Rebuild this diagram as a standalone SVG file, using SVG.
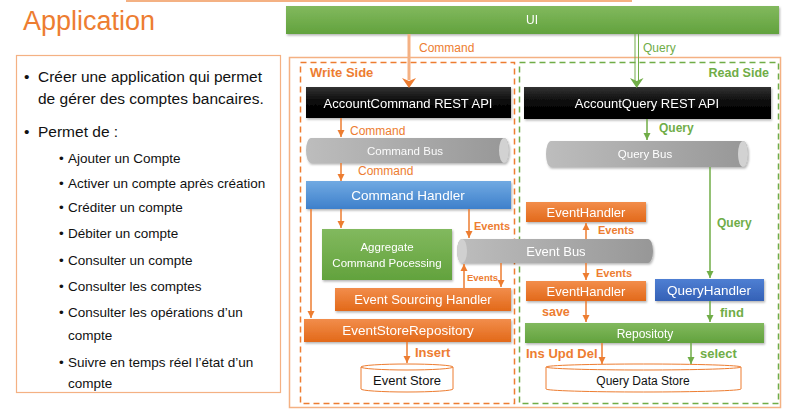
<svg xmlns="http://www.w3.org/2000/svg" width="798" height="416" viewBox="0 0 798 416">
<defs>
<linearGradient id="gGreen" x1="0" y1="0" x2="0" y2="1"><stop offset="0" stop-color="#82B95E"/><stop offset="1" stop-color="#62A23D"/></linearGradient>
<linearGradient id="gOrange" x1="0" y1="0" x2="0" y2="1"><stop offset="0" stop-color="#F28D4B"/><stop offset="1" stop-color="#E2691A"/></linearGradient>
<linearGradient id="gBlack" x1="0" y1="0" x2="0" y2="1"><stop offset="0" stop-color="#333"/><stop offset="0.5" stop-color="#080808"/><stop offset="1" stop-color="#000"/></linearGradient>
<linearGradient id="gBlue" x1="0" y1="0" x2="0" y2="1"><stop offset="0" stop-color="#71AAE2"/><stop offset="1" stop-color="#3E80CB"/></linearGradient>
<linearGradient id="gBlue2" x1="0" y1="0" x2="0" y2="1"><stop offset="0" stop-color="#4F7FD3"/><stop offset="1" stop-color="#3461B6"/></linearGradient>
<linearGradient id="gGray" x1="0" y1="0" x2="1" y2="0"><stop offset="0" stop-color="#BDBDBD"/><stop offset="1" stop-color="#979797"/></linearGradient>
<filter id="sh" x="-5%" y="-20%" width="110%" height="150%"><feDropShadow dx="1" dy="1.5" stdDeviation="1" flood-color="#000" flood-opacity="0.3"/></filter>
<marker id="aO" markerWidth="8" markerHeight="8" refX="7" refY="4" orient="auto" markerUnits="userSpaceOnUse"><path d="M0,0.5 L7,4 L0,7.5 Z" fill="#ED7D31"/></marker>
<marker id="aG" markerWidth="8" markerHeight="8" refX="7" refY="4" orient="auto" markerUnits="userSpaceOnUse"><path d="M0,0.5 L7,4 L0,7.5 Z" fill="#70AD47"/></marker>
<style>
text{font-family:"Liberation Sans",Arial,sans-serif}
.w{fill:#fff;text-anchor:middle}
.k{fill:#111}
.lo{fill:#ED7D31}
.lg{fill:#70AD47}
.b{font-weight:bold}
.eo{stroke:#ED7D31;stroke-width:1.5;fill:none;marker-end:url(#aO)}
.eg{stroke:#70AD47;stroke-width:1.5;fill:none;marker-end:url(#aG)}
.box{filter:url(#sh)}
</style>
</defs>
<rect width="798" height="416" fill="#fff"/>
<rect x="126" y="0" width="506" height="2" fill="#F4B183"/>

<g id="title"><text x="23" y="30" font-size="27" fill="#ED7D31" textLength="132" lengthAdjust="spacingAndGlyphs">Application</text></g>

<g id="leftPanel">
<rect x="16.5" y="55.5" width="264" height="337" fill="#fff" stroke="#F4B183" stroke-width="1.2"/>
<g font-size="15.5" fill="#111">
<text x="24" y="82">•</text><text x="38" y="82" textLength="224" lengthAdjust="spacingAndGlyphs">Créer une application qui permet</text>
<text x="38" y="104">de gérer des comptes bancaires.</text>
<text x="24" y="137">•</text><text x="38" y="137">Permet de :</text>
</g>
<g font-size="13.5" fill="#111">
<text x="59" y="163">•</text><text x="68" y="163">Ajouter un Compte</text>
<text x="59" y="188">•</text><text x="68" y="188">Activer un compte après création</text>
<text x="59" y="212">•</text><text x="68" y="212">Créditer un compte</text>
<text x="59" y="238">•</text><text x="68" y="238">Débiter un compte</text>
<text x="59" y="265">•</text><text x="68" y="265">Consulter un compte</text>
<text x="59" y="291">•</text><text x="68" y="291">Consulter les comptes</text>
<text x="59" y="317">•</text><text x="68" y="317">Consulter les opérations d’un</text>
<text x="68" y="340">compte</text>
<text x="59" y="367">•</text><text x="68" y="367">Suivre en temps réel l’état d’un</text>
<text x="68" y="388">compte</text>
</g>
</g>

<g id="frame">
<rect x="289.5" y="57.5" width="491" height="350" fill="none" stroke="#F4B183" stroke-width="1.5"/>
</g>
<g id="writeSide">
<rect x="300.5" y="62.5" width="214" height="341" fill="none" stroke="#ED7D31" stroke-width="1.5" stroke-dasharray="6,4"/>
<text x="310" y="77" font-size="13" class="lo b">Write Side</text>
</g>
<g id="readSide">
<rect x="519.5" y="62.5" width="259" height="341" fill="none" stroke="#70AD47" stroke-width="1.5" stroke-dasharray="6,4"/>
<text x="769" y="77" font-size="12.5" class="lg b" text-anchor="end">Read Side</text>
</g>

<g id="ui" class="box"><rect x="286" y="6" width="493" height="28" fill="url(#gGreen)"/><text x="532" y="24" font-size="12" class="w">UI</text></g>

<g id="accountCommandApi" class="box"><rect x="306" y="87" width="205" height="31" fill="url(#gBlack)"/><text x="408" y="108" font-size="13" class="w">AccountCommand REST API</text></g>
<g id="accountQueryApi" class="box"><rect x="524" y="87" width="247" height="32" fill="url(#gBlack)"/><text x="647" y="108" font-size="13" class="w">AccountQuery REST API</text></g>

<g id="commandBus" class="box">
<path d="M311,138 H504 A5,12.5 0 0 1 504,163 H311 A5,12.5 0 0 1 311,138 Z" fill="url(#gGray)"/>
<ellipse cx="504" cy="150.5" rx="5" ry="12.5" fill="#D2D2D2"/>
<text x="405" y="155" font-size="11.5" class="w" fill-opacity="0.95">Command Bus</text>
</g>
<g id="commandHandler" class="box"><rect x="306" y="181" width="205" height="28" fill="url(#gBlue)"/><text x="408" y="200" font-size="13.5" class="w">Command Handler</text></g>
<g id="aggregate" class="box"><rect x="322" y="229" width="130" height="51" fill="url(#gGreen)"/><text x="387" y="251" font-size="11.5" class="w">Aggregate</text><text x="387" y="267" font-size="11.5" class="w">Command Pocessing</text></g>
<g id="eventBus" class="box">
<path d="M462,239 H648 A5,12 0 0 1 648,263 H462 A5,12 0 0 1 462,239 Z" fill="url(#gGray)"/>
<ellipse cx="462" cy="251" rx="5" ry="12" fill="#D0D0D0"/>
<text x="556" y="256" font-size="13" class="w">Event Bus</text>
</g>
<g id="eventSourcingHandler" class="box"><rect x="335" y="288" width="176" height="23" fill="url(#gOrange)"/><text x="423" y="304" font-size="13" class="w">Event Sourcing Handler</text></g>
<g id="eventStoreRepository" class="box"><rect x="304" y="319" width="207" height="23" fill="url(#gOrange)"/><text x="408" y="335" font-size="13.5" class="w">EventStoreRepository</text></g>
<g id="eventStore">
<path d="M361,367 V389 A46,3 0 0 0 453,389 V367" fill="#fff" stroke="#ED7D31" stroke-width="1"/>
<ellipse cx="407" cy="367" rx="46" ry="3" fill="#fff" stroke="#ED7D31" stroke-width="1"/>
<text x="407" y="385" font-size="13" class="k" text-anchor="middle">Event Store</text>
</g>

<g id="queryBus" class="box">
<path d="M551,141 H743 A5,13 0 0 1 743,167 H551 A5,13 0 0 1 551,141 Z" fill="url(#gGray)"/>
<ellipse cx="743" cy="154" rx="5" ry="13" fill="#D2D2D2"/>
<text x="645" y="158" font-size="11.5" class="w">Query Bus</text>
</g>
<g id="eventHandlerTop" class="box"><rect x="526" y="202" width="120" height="20" fill="url(#gOrange)"/><text x="586" y="217" font-size="13" class="w">EventHandler</text></g>
<g id="eventHandlerBottom" class="box"><rect x="526" y="281" width="120" height="20" fill="url(#gOrange)"/><text x="586" y="296" font-size="13" class="w">EventHandler</text></g>
<g id="queryHandler" class="box"><rect x="655" y="279" width="109" height="22" fill="url(#gBlue2)"/><text x="709" y="295" font-size="13.5" class="w">QueryHandler</text></g>
<g id="repository" class="box"><rect x="525" y="323" width="239" height="20" fill="url(#gGreen)"/><text x="645" y="338" font-size="12" class="w">Repositoty</text></g>
<g id="queryDataStore">
<path d="M546,367 V389 A97.5,3 0 0 0 741,389 V367" fill="#fff" stroke="#ED7D31" stroke-width="1"/>
<ellipse cx="643.5" cy="367" rx="97.5" ry="3" fill="#fff" stroke="#ED7D31" stroke-width="1"/>
<text x="643" y="385" font-size="12" class="k" text-anchor="middle">Query Data Store</text>
</g>

<g id="connectors">
<line x1="409" y1="34" x2="409" y2="80" stroke="#F4B183" stroke-width="3"/>
<path d="M402,78 L409,88 L416,78 L409,81 Z" fill="#ED7D31"/>
<text x="419" y="52" font-size="12" class="lo">Command</text>
<line x1="635" y1="34" x2="635" y2="81" stroke="#70AD47" stroke-width="1"/>
<line x1="638.5" y1="34" x2="638.5" y2="81" stroke="#70AD47" stroke-width="1"/>
<path d="M630,78 L636.7,88 L643.5,78 L636.7,81 Z" fill="#70AD47"/>
<text x="643" y="52" font-size="12" class="lg">Query</text>

<line x1="341" y1="118" x2="341" y2="137" class="eo"/>
<text x="350" y="135" font-size="12" class="lo">Command</text>
<line x1="341" y1="163" x2="341" y2="181" class="eo"/>
<text x="358" y="175" font-size="12" class="lo">Command</text>
<line x1="341" y1="209" x2="341" y2="228" class="eo"/>
<line x1="311" y1="209" x2="311" y2="318" class="eo"/>
<line x1="469" y1="209" x2="469" y2="238" class="eo"/>
<text x="474" y="230" font-size="11" class="lo b">Events</text>
<line x1="464" y1="288" x2="464" y2="264" class="eo"/>
<line x1="501" y1="263" x2="501" y2="287" class="eo"/>
<text x="467" y="281" font-size="9.5" class="lo b">Events</text>
<line x1="407" y1="342" x2="407" y2="363" class="eo"/>
<text x="415" y="357" font-size="13" class="lo b">Insert</text>

<line x1="647" y1="119" x2="647" y2="140" class="eg"/>
<text x="659" y="132" font-size="12" class="lg b">Query</text>
<line x1="710" y1="167" x2="710" y2="278" class="eg"/>
<text x="717" y="227" font-size="12" class="lg b">Query</text>
<line x1="586" y1="239" x2="586" y2="223" class="eo"/>
<text x="598" y="234" font-size="11" class="lo b">Events</text>
<line x1="586" y1="263" x2="586" y2="280" class="eo"/>
<text x="596" y="277" font-size="11" class="lo b">Events</text>
<line x1="586" y1="301" x2="586" y2="322" class="eo"/>
<text x="542" y="316" font-size="12.5" class="lo b">save</text>
<line x1="710" y1="301" x2="710" y2="322" class="eg"/>
<text x="720" y="317" font-size="13" class="lg b">find</text>
<line x1="602" y1="343" x2="602" y2="364" class="eo"/>
<text x="526" y="358" font-size="13" class="lo b">Ins Upd Del</text>
<line x1="691" y1="343" x2="691" y2="364" class="eg"/>
<text x="700" y="358" font-size="13" class="lg b">select</text>
</g>
</svg>
